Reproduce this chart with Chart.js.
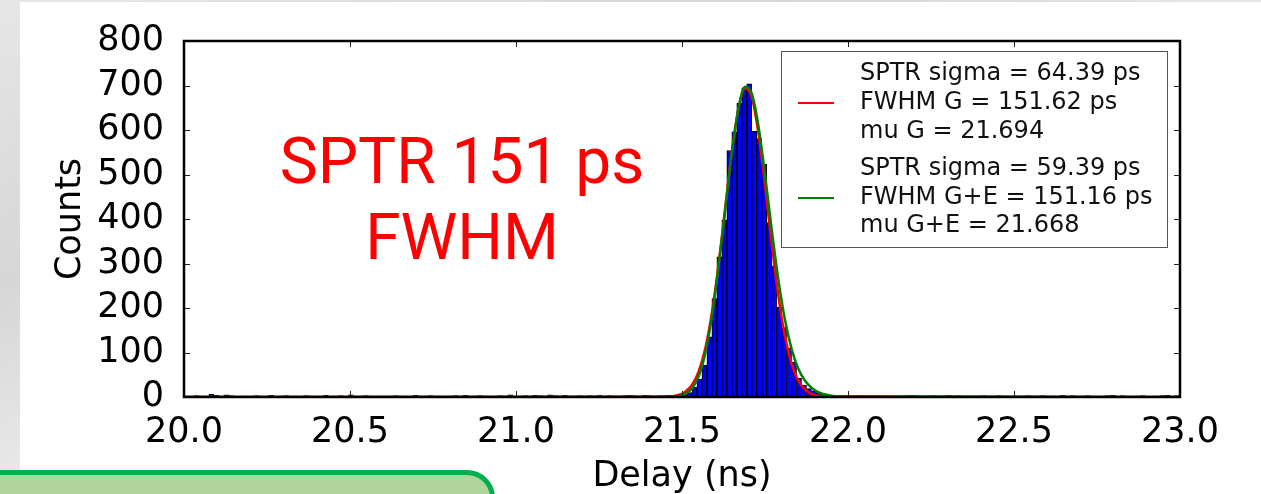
<!DOCTYPE html>
<html>
<head>
<meta charset="utf-8">
<script src="https://cdn.jsdelivr.net/npm/chart.js@4.4.1/dist/chart.umd.min.js"></script>
<style>
  html, body { margin: 0; padding: 0; }
  body { width: 1261px; height: 494px; position: relative; overflow: hidden;
         background: linear-gradient(160deg, #e6e6e6 0%, #d6d6d6 30%, #ececec 55%, #d9d9d9 80%, #e4e4e4 100%); }
  #panel { position: absolute; left: 20px; top: 2px; width: 1241px; height: 492px; background: #fff; }
  #note { position: absolute; left: -6px; top: 470px; width: 491px; height: 60px;
          background: #b0d59b; border: 5px solid #00b050; border-top-right-radius: 28px; }
  #wrap { position: absolute; left: 0; top: 0; width: 1261px; height: 494px; }
</style>
</head>
<body>
<div id="panel"></div>
<div id="note"></div>
<div id="wrap"><canvas id="chart" width="1261" height="494"></canvas></div>
<script>
// histogram: 200 bins of 15 ps from 20.0 ns to 23.0 ns
const binStart = 20.0;
const binWidth = 0.015;
const counts = [
  2,1,3,2,1,6,4,2,5,3,
  1,2,2,1,3,1,2,4,1,2,
  3,1,2,1,3,2,1,2,4,1,
  2,3,1,5,2,1,3,2,1,2,
  1,2,3,1,2,1,4,2,1,3,
  2,1,2,1,3,2,4,1,2,3,
  1,2,1,3,2,5,1,2,3,2,
  4,3,2,5,3,2,4,2,1,3,
  2,3,2,4,1,3,2,2,3,4,
  3,2,4,3,2,3,3,4,3,
  // peak region
  3,5,10,22,40,72,135,221,315,398,
  554,596,660,695,704,597,581,523,392,295,
  202,156,110,78,42,27,19,14,11,7,
  5,4,
  3,2,4,1,3,2,1,2,3,1,
  2,1,2,1,3,4,2,1,2,3,
  1,2,4,2,3,1,2,1,2,3,
  2,1,3,2,1,2,2,1,3,2,
  2,3,1,2,2,4,2,3,1,2,
  3,2,1,2,3,4,2,3,2,1,
  2,3,2,1,2,3,4,2,3
];

// fit curves
const curveX = [20.0, 21.45, 21.47, 21.49, 21.51, 21.53, 21.55, 21.57, 21.59, 21.61, 21.63, 21.65, 21.67, 21.69,
                21.71, 21.73, 21.75, 21.77, 21.79, 21.81, 21.83, 21.85, 21.87, 21.89, 21.91, 21.93, 21.95, 21.97, 23.0];
const gaussY = [0, 0.5, 1.7, 4.6, 12, 27, 57, 109, 189, 297, 424, 550, 648, 694,
                674, 594, 476, 346, 229, 137, 75, 37, 17, 7, 2.5, 0.8, 0.2, 0, 0];
const gaussExpY = [0, 0.2, 0.6, 2, 7, 19, 46, 98, 180, 292, 420, 548, 648, 697,
                   682, 610, 500, 378, 265, 174, 108, 64, 37, 21, 11, 6, 3, 1.5, 0];

const xTicks = [20.0, 20.5, 21.0, 21.5, 22.0, 22.5, 23.0];
const yTicks = [0, 100, 200, 300, 400, 500, 600, 700, 800];

const legendGauss = ["SPTR sigma = 64.39 ps", "FWHM G = 151.62 ps", "mu G = 21.694"];
const legendGaussExp = ["SPTR sigma = 59.39 ps", "FWHM G+E = 151.16 ps", "mu G+E = 21.668"];
const bigText = ["SPTR 151 ps", "FWHM"];

const histData = counts.map((c, i) => ({ x: binStart + binWidth * (i + 0.5), y: c }));
const redData = curveX.map((x, i) => ({ x: x, y: gaussY[i] }));
const greenData = curveX.map((x, i) => ({ x: x, y: gaussExpY[i] }));

const tickFont = { family: "DejaVu Sans", size: 35 };

const overlay = {
  id: "overlay",
  afterDraw(chart) {
    const ctx = chart.ctx;
    const a = chart.chartArea;
    const xs = chart.scales.x, ys = chart.scales.y;
    ctx.save();

    // inward ticks on all four sides
    ctx.strokeStyle = "#222";
    ctx.lineWidth = 1;
    ctx.beginPath();
    yTicks.forEach(v => {
      const py = Math.round(ys.getPixelForValue(v)) + 0.5;
      ctx.moveTo(a.left, py); ctx.lineTo(a.left + 6, py);
      ctx.moveTo(a.right, py); ctx.lineTo(a.right - 6, py);
    });
    xTicks.forEach(v => {
      const px = Math.round(xs.getPixelForValue(v)) + 0.5;
      ctx.moveTo(px, a.bottom); ctx.lineTo(px, a.bottom - 6);
      ctx.moveTo(px, a.top); ctx.lineTo(px, a.top + 6);
    });
    ctx.stroke();

    // frame
    ctx.strokeStyle = "#000";
    ctx.lineWidth = 2.5;
    ctx.strokeRect(a.left, a.top, a.right - a.left, a.bottom - a.top);

    // legend box
    ctx.fillStyle = "#fff";
    ctx.fillRect(781, 51, 387, 196);
    ctx.strokeStyle = "#555";
    ctx.lineWidth = 1;
    ctx.strokeRect(781.5, 51.5, 386, 196);
    ctx.lineWidth = 2;
    ctx.strokeStyle = "#ff0000";
    ctx.beginPath(); ctx.moveTo(798, 103); ctx.lineTo(834, 103); ctx.stroke();
    ctx.strokeStyle = "#008000";
    ctx.beginPath(); ctx.moveTo(798, 198); ctx.lineTo(834, 198); ctx.stroke();
    ctx.fillStyle = "#111";
    ctx.font = "24px 'DejaVu Sans'";
    ctx.textAlign = "left";
    ctx.textBaseline = "alphabetic";
    [80, 109, 138].forEach((y, i) => ctx.fillText(legendGauss[i], 860, y));
    [175, 204, 232].forEach((y, i) => ctx.fillText(legendGaussExp[i], 860, y));

    // big annotation
    ctx.fillStyle = "#ff0000";
    ctx.font = "64px Roboto";
    ctx.textAlign = "center";
    ctx.fillText(bigText[0], 462, 183);
    ctx.fillText(bigText[1], 462, 259);
    ctx.restore();
  }
};

new Chart(document.getElementById("chart"), {
  type: "bar",
  data: {
    datasets: [
      {
        type: "line",
        data: greenData,
        borderColor: "#008000",
        borderWidth: 2.5,
        pointRadius: 0,
        cubicInterpolationMode: "monotone",
        order: 1
      },
      {
        type: "line",
        data: redData,
        borderColor: "#ff0000",
        borderWidth: 2.5,
        pointRadius: 0,
        cubicInterpolationMode: "monotone",
        order: 2
      },
      {
        data: histData,
        backgroundColor: "#0000ff",
        borderColor: "#000",
        borderWidth: 1,
        barPercentage: 1,
        categoryPercentage: 1,
        order: 3
      }
    ]
  },
  options: {
    responsive: false,
    animation: false,
    layout: { padding: { left: 0, top: 39, right: 81, bottom: 0 } },
    plugins: { legend: { display: false }, tooltip: { enabled: false } },
    scales: {
      x: {
        type: "linear",
        min: 20, max: 23,
        offset: false,
        afterFit: s => { s.height = 97; },
        afterBuildTicks: s => { s.ticks = xTicks.map(v => ({ value: v })); },
        grid: { display: false, drawTicks: false, offset: false },
        border: { display: false },
        ticks: { font: tickFont, color: "#000", padding: 15, maxRotation: 0, autoSkip: false,
                 callback: v => Number(v).toFixed(1) },
        title: { display: true, text: "Delay (ns)", color: "#000", padding: 0,
                 font: { family: "DejaVu Sans", size: 35, lineHeight: 1 } }
      },
      y: {
        min: 0, max: 800,
        afterFit: s => { s.width = 184; },
        afterBuildTicks: s => { s.ticks = yTicks.map(v => ({ value: v })); },
        grid: { display: false, drawTicks: false },
        border: { display: false },
        ticks: { font: tickFont, color: "#000", padding: 20, autoSkip: false },
        title: { display: true, text: "Counts", font: tickFont, color: "#000", padding: { top: 50, bottom: 0 } }
      }
    }
  },
  plugins: [overlay]
});
</script>
</body>
</html>
